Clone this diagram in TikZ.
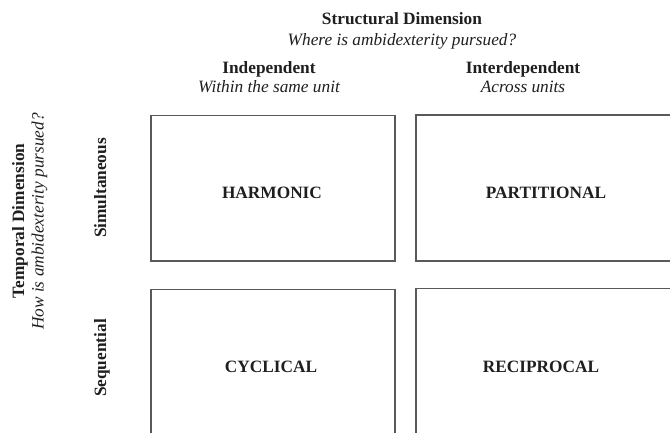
\documentclass[tikz,border=0pt]{standalone}
\usepackage{fontspec}
\setmainfont{Liberation Serif}
\begin{document}
\begin{tikzpicture}[x=1pt,y=-1pt,
  txt/.style={font=\fontsize{17.3}{20}\selectfont, text=black!88, inner sep=0pt, anchor=base},
  btxt/.style={txt, font=\fontsize{17.3}{20}\selectfont\bfseries},
  itxt/.style={txt, font=\fontsize{17.3}{20}\selectfont\itshape},
  cell/.style={draw=black!65, line width=1.3pt, fill=white}]
\useasboundingbox (0,0) rectangle (670,432);
\clip (0,0) rectangle (670,432);
% cells
\path[cell] (151,115.5) rectangle (395,261);
\path[cell] (416,115) rectangle (690,261);
\path[cell] (151,289.5) rectangle (395,445);
\path[cell] (416,288.5) rectangle (690,445);
% column headers
\node[btxt] (sd) at (402,24) {Structural Dimension};
\node[itxt] (sq) at (402,45) {Where is ambidexterity pursued?};
\node[btxt] (ind) at (269,73) {Independent};
\node[itxt] (indq) at (269,92) {Within the same unit};
\node[btxt] (intd) at (523,73) {Interdependent};
\node[itxt] (intdq) at (523,92) {Across units};
% row headers
\node[btxt, rotate=90] (td) at (24,221) {Temporal Dimension};
\node[itxt, rotate=90] (tq) at (43.5,221.5) {How is ambidexterity pursued?};
\node[btxt, rotate=90] (sim) at (106,188) {Simultaneous};
\node[btxt, rotate=90] (seq) at (106,358) {Sequential};
% cell labels
\node[btxt] (harm) at (272,198.5) {HARMONIC};
\node[btxt] (part) at (546,198) {PARTITIONAL};
\node[btxt] (cyc) at (271,372.5) {CYCLICAL};
\node[btxt] (rec) at (541,372) {RECIPROCAL};
\end{tikzpicture}
\end{document}
